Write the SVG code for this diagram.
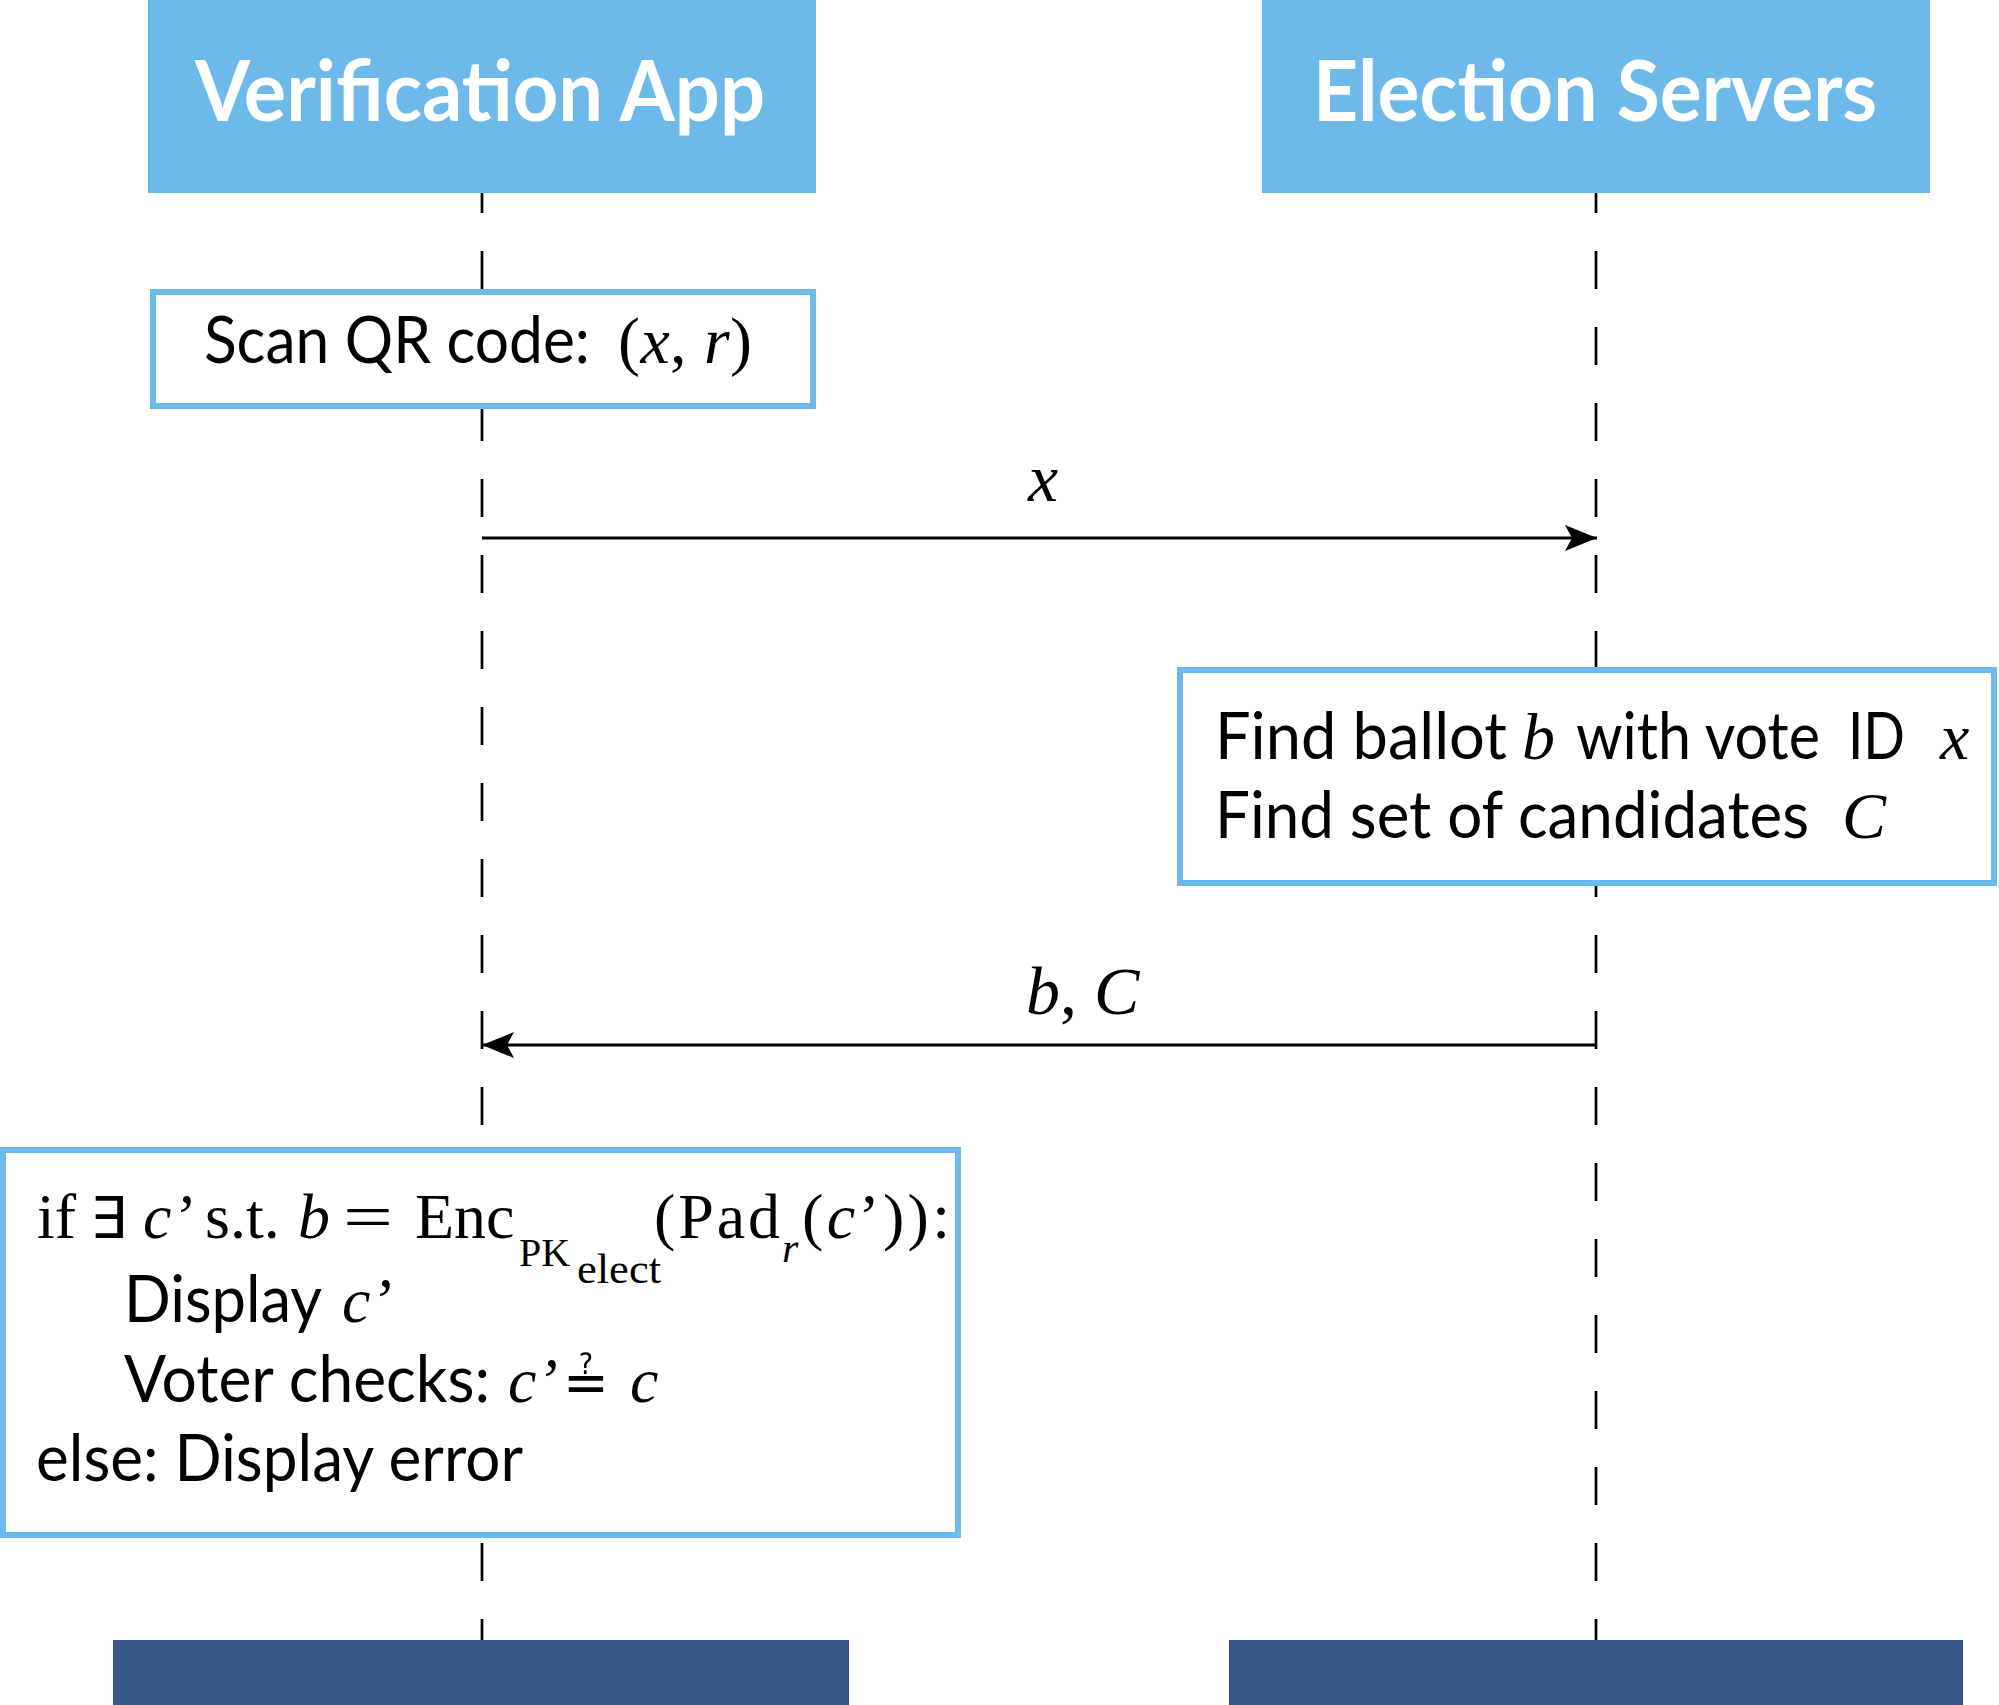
<svg xmlns="http://www.w3.org/2000/svg" width="1999" height="1705" viewBox="0 0 1999 1705">
<style>
.hdr{fill:#6CB9EA}
.foot{fill:#355686}
.box{fill:#ffffff;stroke:#6CB9EA;stroke-width:6}
.life{stroke:#000;stroke-width:2.7;stroke-dasharray:38 38;fill:none}
.msg{stroke:#000;stroke-width:3;fill:none}
.htxt{font-family:Lato,"Liberation Sans",sans-serif;font-weight:700;font-size:84px;fill:#fff}
.sans{font-family:Lato,"Liberation Sans",sans-serif;font-size:66px;fill:#000}
.ser{font-family:"Liberation Serif","DejaVu Serif",serif;font-size:64px;fill:#000}
.big{font-size:68px}
.mid{font-size:66px}
.sub{font-size:40px}
.sub2{font-size:42px}
.it{font-style:italic}
.sym{font-family:"DejaVu Sans",sans-serif;font-size:58px;fill:#000}
</style>
<defs>
<marker id="ah" markerUnits="userSpaceOnUse" markerWidth="40" markerHeight="30" viewBox="-34 -15 36 30" refX="0" refY="0" orient="auto">
<path d="M0,0 L-32,-13 L-25,0 L-32,13 Z" fill="#000"/>
</marker>
</defs>
<rect width="1999" height="1705" fill="#fff"/>
<g id="lifelines">
<line class="life" x1="482" y1="175" x2="482" y2="1640"/>
<line class="life" x1="1596" y1="175" x2="1596" y2="1640"/>
</g>
<g id="verification-app">
<rect class="hdr" x="148" y="0" width="668" height="193"/>
<text class="htxt" x="195" y="121" textLength="570" lengthAdjust="spacingAndGlyphs">Verification App</text>
</g>
<g id="election-servers">
<rect class="hdr" x="1262" y="0" width="668" height="193"/>
<text class="htxt" x="1313" y="121" textLength="564" lengthAdjust="spacingAndGlyphs">Election Servers</text>
</g>
<g id="scan-qr">
<rect class="box" x="153" y="292" width="660" height="114"/>
<text class="sans" x="204" y="363" textLength="386" lengthAdjust="spacingAndGlyphs">Scan QR code:</text>
<text class="ser mid" x="618" y="363" textLength="134" lengthAdjust="spacing">(<tspan class="it">x</tspan>, <tspan class="it">r</tspan>)</text>
</g>
<g id="find-ballot">
<rect class="box" x="1180" y="670" width="814" height="213"/>
<text class="sans" x="1215" y="759" textLength="292" lengthAdjust="spacingAndGlyphs">Find ballot</text>
<text class="ser it mid" x="1522" y="759">b</text>
<text class="sans" x="1576" y="759" textLength="244" lengthAdjust="spacingAndGlyphs">with vote</text>
<text class="sans" x="1848" y="759" textLength="57" lengthAdjust="spacingAndGlyphs">ID</text>
<text class="ser it mid" x="1940" y="759">x</text>
<text class="sans" x="1215" y="838" textLength="594" lengthAdjust="spacingAndGlyphs">Find set of candidates</text>
<text class="ser it mid" x="1842" y="838">C</text>
</g>
<g id="check-ballot">
<rect class="box" x="3" y="1150" width="955" height="385"/>
<text class="ser" x="37" y="1238">if</text>
<text class="sym" x="90" y="1238">∃</text>
<text class="ser it" x="143" y="1238">c’</text>
<text class="ser" x="205" y="1238">s.t.</text>
<text class="ser it" x="298" y="1238">b</text>
<text class="ser" x="343" y="1238" textLength="50" lengthAdjust="spacingAndGlyphs">=</text>
<text class="ser" x="415" y="1238">Enc</text>
<text class="ser sub" x="519" y="1266">PK</text>
<text class="ser sub2" x="577" y="1283" textLength="84" lengthAdjust="spacingAndGlyphs">elect</text>
<text class="ser" x="654" y="1238" textLength="126" lengthAdjust="spacing">(Pad</text>
<text class="ser it sub2" x="782" y="1262">r</text>
<text class="ser" x="802" y="1238" textLength="148" lengthAdjust="spacing">(<tspan class="it">c</tspan>’)):</text>
<text class="sans" x="124" y="1322" textLength="198" lengthAdjust="spacingAndGlyphs">Display</text>
<text class="ser it" x="342" y="1322">c’</text>
<text class="sans" x="124" y="1402" textLength="366" lengthAdjust="spacingAndGlyphs">Voter checks:</text>
<text class="ser it" x="508" y="1402">c’</text>
<text class="sym" x="563" y="1402" textLength="46" lengthAdjust="spacingAndGlyphs">≟</text>
<text class="ser it" x="630" y="1402">c</text>
<text class="sans" x="36" y="1481" textLength="487" lengthAdjust="spacingAndGlyphs">else: Display error</text>
</g>
<g id="connectors">
<line class="msg" x1="482" y1="538" x2="1597" y2="538" marker-end="url(#ah)"/>
<text class="ser it big" x="1028" y="501">x</text>
<line class="msg" x1="1596" y1="1045" x2="482" y2="1045" marker-end="url(#ah)"/>
<text class="ser big" x="1026" y="1014"><tspan class="it">b</tspan>, <tspan class="it">C</tspan></text>
</g>
<g id="app-end">
<rect class="foot" x="113" y="1640" width="736" height="65"/>
</g>
<g id="servers-end">
<rect class="foot" x="1229" y="1640" width="734" height="65"/>
</g>
</svg>
